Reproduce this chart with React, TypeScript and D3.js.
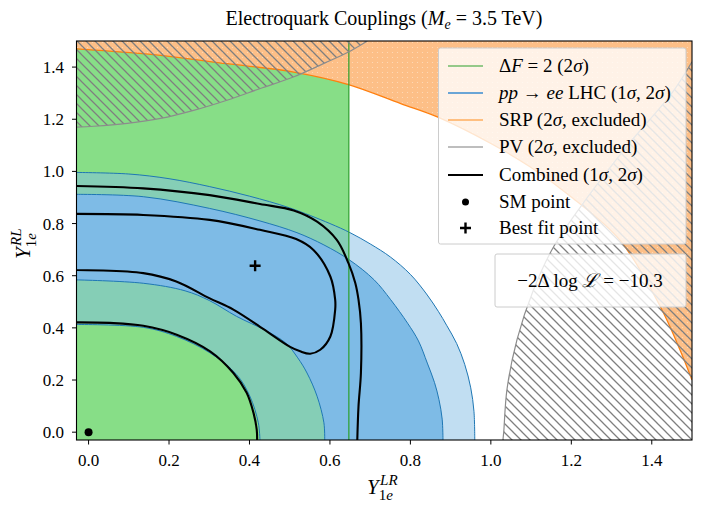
import React from 'react';
import * as d3 from 'd3';

type Pt = [number, number];

// axis setup
const domain: Pt = [-0.03, 1.5];
const xTicks = [0, 0.2, 0.4, 0.6, 0.8, 1.0, 1.2, 1.4];
const yTicks = [0, 0.2, 0.4, 0.6, 0.8, 1.0, 1.2, 1.4];

// ΔF = 2 (2σ): allowed for Y_LR below this value
const deltaFEdge = 0.647;

// pp -> ee LHC contours (1σ band, 2σ band), read point by point
const lhc2Outer: Pt[] = [[-0.03, 0.996], [0.1, 0.99], [0.2, 0.972], [0.3, 0.942], [0.4, 0.905], [0.5, 0.86], [0.6, 0.8], [0.65, 0.765], [0.7, 0.722], [0.75, 0.672], [0.8, 0.605], [0.84, 0.53], [0.87, 0.462], [0.89, 0.41], [0.915, 0.34], [0.935, 0.26], [0.95, 0.17], [0.958, 0.08], [0.96, -0.03]];
const lhc1Outer: Pt[] = [[-0.03, 0.912], [0.136, 0.903], [0.301, 0.858], [0.426, 0.81], [0.518, 0.765], [0.585, 0.718], [0.648, 0.661], [0.71, 0.584], [0.751, 0.508], [0.793, 0.418], [0.82, 0.35], [0.842, 0.265], [0.86, 0.19], [0.871, 0.125], [0.879, 0.05], [0.881, -0.03]];
const lhc1Inner: Pt[] = [[-0.03, 0.584], [0.136, 0.571], [0.24, 0.542], [0.30, 0.505], [0.368, 0.444], [0.44, 0.39], [0.49, 0.342], [0.52, 0.285], [0.543, 0.227], [0.568, 0.138], [0.585, 0.036], [0.587, -0.03]];
const lhc2Inner: Pt[] = [[-0.03, 0.413], [0.136, 0.402], [0.219, 0.367], [0.302, 0.304], [0.368, 0.221], [0.401, 0.138], [0.422, 0.036], [0.426, -0.03]];

// SRP (excluded above this edge)
const srpEdge: Pt[] = [[-0.03, 1.47], [0.179, 1.445], [0.344, 1.413], [0.51, 1.381], [0.646, 1.333], [0.776, 1.26], [0.867, 1.209], [1.0, 1.107], [1.1, 1.015], [1.2, 0.902], [1.321, 0.736], [1.421, 0.482], [1.47, 0.316], [1.5, 0.2]];

// PV (excluded, hatched) - two pieces
const pvUpper: Pt[] = [[-0.03, 1.17], [0.013, 1.173], [0.096, 1.184], [0.179, 1.203], [0.261, 1.234], [0.344, 1.273], [0.427, 1.318], [0.509, 1.362], [0.592, 1.419], [0.65, 1.461], [0.693, 1.5]];
const pvLower: Pt[] = [[1.03, -0.03], [1.032, 0], [1.04, 0.163], [1.065, 0.355], [1.106, 0.546], [1.156, 0.711], [1.24, 0.9], [1.34, 1.1], [1.45, 1.3], [1.5, 1.42]];

// combined fit contours
const comb2Outer: Pt[] = [[-0.03, 0.944], [0.136, 0.935], [0.301, 0.909], [0.426, 0.875], [0.51, 0.85], [0.568, 0.807], [0.617, 0.737], [0.646, 0.648], [0.663, 0.572], [0.671, 0.508], [0.677, 0.418], [0.677, 0.227], [0.671, 0.099], [0.668, -0.03]];
const comb2Inner: Pt[] = [[-0.03, 0.421], [0.053, 0.419], [0.136, 0.408], [0.219, 0.374], [0.302, 0.31], [0.36, 0.227], [0.393, 0.151], [0.41, 0.074], [0.418, 0.01], [0.419, -0.03]];
const comb1: Pt[] = [[-0.03, 0.837], [0.136, 0.833], [0.301, 0.814], [0.426, 0.776], [0.516, 0.741], [0.559, 0.699], [0.601, 0.597], [0.613, 0.508], [0.613, 0.469], [0.601, 0.367], [0.576, 0.316], [0.551, 0.301], [0.526, 0.31], [0.501, 0.327], [0.435, 0.395], [0.36, 0.47], [0.30, 0.514], [0.218, 0.578], [0.136, 0.61], [-0.03, 0.622]];

const smPoint: Pt = [0, 0];
const bestFit: Pt = [0.414, 0.638];
const logLikelihood = '−10.3';

const FONT = "'Liberation Serif', 'Times New Roman', serif";

const MathY = ({ sup, size = 21 }: { sup: string; size?: number }) => (
  <g fontFamily={FONT} fontStyle="italic">
    <text x={0} y={0} fontSize={size}>Y</text>
    <text x={size * 0.62} y={-size * 0.42} fontSize={size * 0.72}>{sup}</text>
    <text x={size * 0.56} y={size * 0.3} fontSize={size * 0.72}><tspan fontStyle="normal">1</tspan>e</text>
  </g>
);

export default function App() {
  const x = d3.scaleLinear().domain(domain).range([76.5, 692]);
  const y = d3.scaleLinear().domain(domain).range([440, 41]);
  const line = d3.line<Pt>().x(d => x(d[0])).y(d => y(d[1])).curve(d3.curveCatmullRom.alpha(0.5));
  const [lo, hi] = domain;
  const corner = `L${x(lo)},${y(lo)}Z`;
  const annulus = (outer: Pt[], inner: Pt[]) => line(outer) + corner + line(inner) + corner;
  const pad = 0.1;

  const srpArea = line(srpEdge) + `L${x(hi + pad)},${y(0.2)}L${x(hi + pad)},${y(hi + pad)}L${x(lo - pad)},${y(hi + pad)}L${x(lo - pad)},${y(1.47)}Z`;
  const pvUpperArea = line(pvUpper) + `L${x(0.72)},${y(hi + pad)}L${x(lo - pad)},${y(hi + pad)}L${x(lo - pad)},${y(1.17)}Z`;
  const pvLowerArea = line(pvLower) + `L${x(hi + pad)},${y(1.42)}L${x(hi + pad)},${y(lo - pad)}L${x(1.03)},${y(lo - pad)}Z`;

  const legendRows = [
    { key: 'df', y: 66, handle: <line x1={448} x2={483} stroke="#2ca02c" strokeWidth={1.2} />, label: <>Δ<tspan fontStyle="italic">F</tspan> = 2 (2<tspan fontStyle="italic">σ</tspan>)</> },
    { key: 'lhc', y: 93, handle: <line x1={448} x2={483} stroke="#6aa5d6" strokeWidth={2} />, label: <><tspan fontStyle="italic">pp</tspan> → <tspan fontStyle="italic">ee</tspan> LHC (1<tspan fontStyle="italic">σ</tspan>, 2<tspan fontStyle="italic">σ</tspan>)</> },
    { key: 'srp', y: 120, handle: <line x1={448} x2={483} stroke="#ff8c1a" strokeWidth={1.2} />, label: <>SRP (2<tspan fontStyle="italic">σ</tspan>, excluded)</> },
    { key: 'pv', y: 147, handle: <line x1={448} x2={483} stroke="#a8a8a8" strokeWidth={1.5} />, label: <>PV (2<tspan fontStyle="italic">σ</tspan>, excluded)</> },
    { key: 'comb', y: 175, handle: <line x1={448} x2={483} stroke="#000" strokeWidth={2} />, label: <>Combined (1<tspan fontStyle="italic">σ</tspan>, 2<tspan fontStyle="italic">σ</tspan>)</> },
    { key: 'sm', y: 202, handle: <circle cx={465.5} cy={0} r={3.5} fill="#000" />, label: <>SM point</> },
    { key: 'bf', y: 228, handle: <path d="M460,0H471M465.5,-5.5V5.5" stroke="#000" strokeWidth={2.4} />, label: <>Best fit point</> },
  ];

  return (
    <svg width={706} height={510} style={{ position: 'absolute', left: 0, top: 0, background: '#fff' }} fontFamily={FONT}>
      <defs>
        <clipPath id="plot">
          <rect x={x(lo)} y={y(hi)} width={x(hi) - x(lo)} height={y(lo) - y(hi)} />
        </clipPath>
        <pattern id="hatch" width={9} height={9} patternUnits="userSpaceOnUse">
          <path d="M0,0L9,9M-1,8L1,10M8,-1L10,1" stroke="#7f7f7f" strokeWidth={1.3} />
        </pattern>
        <pattern id="dots" width={5} height={5} patternUnits="userSpaceOnUse">
          <circle cx={2.5} cy={2.5} r={0.6} fill="#fff" opacity={0.45} />
        </pattern>
      </defs>

      {/* title */}
      <text x={384} y={25} textAnchor="middle" fontSize={20}>
        Electroquark Couplings (<tspan fontStyle="italic">M</tspan><tspan fontStyle="italic" fontSize={14} dy={4}>e</tspan><tspan dy={-4}> = 3.5 TeV)</tspan>
      </text>

      <g clipPath="url(#plot)">
        <rect x={x(lo)} y={y(hi)} width={x(deltaFEdge) - x(lo)} height={y(lo) - y(hi)} fill="#87de87" />
        <path d={annulus(lhc2Outer, lhc2Inner)} fill="rgb(131,189,229)" fillOpacity={0.5} fillRule="evenodd" />
        <path d={annulus(lhc1Outer, lhc1Inner)} fill="#7ebbe6" fillRule="evenodd" />
        {[lhc2Outer, lhc1Outer, lhc1Inner, lhc2Inner].map((c, i) => (
          <path key={i} d={line(c) || ''} fill="none" stroke="#1f77b4" strokeWidth={1} />
        ))}
        <path d={srpArea} fill="#fdbf87" />
        <path d={srpArea} fill="url(#dots)" />
        <path d={line(srpEdge) || ''} fill="none" stroke="#ff7f0e" strokeWidth={1.3} />
        <line x1={x(deltaFEdge)} x2={x(deltaFEdge)} y1={y(lo)} y2={y(hi)} stroke="#2ca02c" strokeWidth={1.2} />
        <path d={pvUpperArea} fill="url(#hatch)" />
        <path d={pvLowerArea} fill="url(#hatch)" />
        <path d={line(pvUpper) || ''} fill="none" stroke="#8c8c8c" strokeWidth={1.2} />
        <path d={line(pvLower) || ''} fill="none" stroke="#8c8c8c" strokeWidth={1.2} />
        {[comb2Outer, comb2Inner, comb1].map((c, i) => (
          <path key={i} d={line(c) || ''} fill="none" stroke="#000" strokeWidth={2.1} />
        ))}
        <circle cx={x(smPoint[0])} cy={y(smPoint[1])} r={4} fill="#000" />
        <path d={`M${x(bestFit[0]) - 5.5},${y(bestFit[1])}H${x(bestFit[0]) + 5.5}M${x(bestFit[0])},${y(bestFit[1]) - 5.5}V${y(bestFit[1]) + 5.5}`} stroke="#000" strokeWidth={2.4} />
      </g>

      {/* frame and ticks */}
      <rect x={x(lo)} y={y(hi)} width={x(hi) - x(lo)} height={y(lo) - y(hi)} fill="none" stroke="#000" strokeWidth={1.1} />
      {xTicks.map(t => (
        <g key={'x' + t}>
          <line x1={x(t)} x2={x(t)} y1={y(lo)} y2={y(lo) + 4.5} stroke="#000" />
          <text x={x(t)} y={466} textAnchor="middle" fontSize={17}>{t.toFixed(1)}</text>
        </g>
      ))}
      {yTicks.map(t => (
        <g key={'y' + t}>
          <line x1={x(lo)} x2={x(lo) - 4.5} y1={y(t)} y2={y(t)} stroke="#000" />
          <text x={64} y={y(t) + 6} textAnchor="end" fontSize={17}>{t.toFixed(1)}</text>
        </g>
      ))}

      {/* axis labels */}
      <g transform="translate(367,494)"><MathY sup="LR" /></g>
      <g transform="translate(30,259) rotate(-90)"><MathY sup="RL" /></g>

      {/* legend */}
      <rect x={438.5} y={48} width={247.5} height={196} rx={2} fill="#fff" fillOpacity={0.8} stroke="#cccccc" strokeWidth={1} />
      {legendRows.map(r => (
        <g key={r.key}>
          <g transform={`translate(0,${r.y})`}>{r.handle}</g>
          <text x={499} y={r.y + 6} fontSize={19}>{r.label}</text>
        </g>
      ))}

      <rect x={495} y={254} width={191} height={53} rx={2} fill="#fff" fillOpacity={0.8} stroke="#cccccc" strokeWidth={1} />
      <text x={590} y={287} textAnchor="middle" fontSize={19}>
        −2Δ log <tspan fontStyle="italic">ℒ</tspan> = {logLikelihood}
      </text>
    </svg>
  );
}
